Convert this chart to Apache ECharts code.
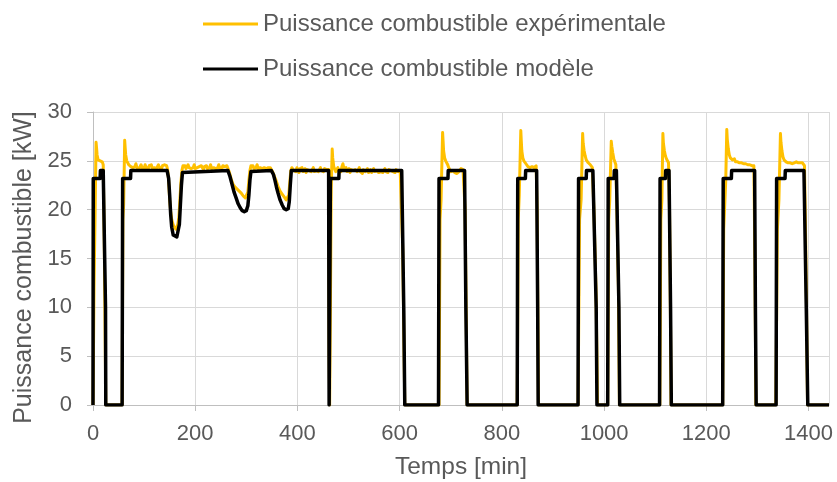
<!DOCTYPE html>
<html>
<head>
<meta charset="utf-8">
<script src="https://cdn.jsdelivr.net/npm/echarts@6/dist/echarts.min.js"></script>
<style>
html,body{margin:0;padding:0;background:#fff;}
#chart{width:837px;height:482px;}
</style>
</head>
<body>
<div id="chart"></div>
<script>
const seriesNames = ['Puissance combustible expérimentale', 'Puissance combustible modèle'];
const xAxisTitle = 'Temps [min]';
const yAxisTitle = 'Puissance combustible [kW]';
const xTicks = [0, 200, 400, 600, 800, 1000, 1200, 1400];
const yTicks = [0, 5, 10, 15, 20, 25, 30];

// Model (black) [time min, power kW]
const modelPoints = [
[0,0],[0.5,23.2],[14,23.2],[14.5,24],[20,24],[24.5,10],[25,0],
[57,0],[58,23.2],[73.5,23.2],[74,24],[145,24],
[148,23.2],[150,21.5],[152,19.5],[154,18.2],[157,17.4],[160,17.2],[164,17.2],[167,17.4],[169,18.5],[171,20.5],[173,22.5],[175,23.8],[178,24],
[264,24],[268,23.4],[272,22.6],[276,21.8],[280,21.2],[284,20.6],[288,20.2],[292,19.9],[296,19.8],[300,19.9],[303,20.4],[305,21.5],[307,23],[309,23.9],[311,24],
[349,24],[353,23.6],[356,23],[359,22.3],[362,21.7],[366,21],[370,20.5],[374,20.1],[378,20],[382,20.1],[384,20.8],[386,22.5],[388,24],
[461,24],[462,0],[463.5,0],[464.5,23.2],[481,23.2],[481.5,24],[604,24],[608,10],[610,0],
[676,0],[677,23.2],[694.5,23.2],[695,24],[727,24],[729.5,10],[732,0],
[830,0],[831,23.2],[846,23.2],[846.5,24],[868,24],[870,10],[871,0],
[949,0],[950,23.2],[965,23.2],[965.5,24],[978,24],[984.5,10],[986,0],
[1007,0],[1008,23.2],[1019.5,23.2],[1020,24],[1024,24],[1029,10],[1030.5,0],
[1108.5,0],[1109.5,23.2],[1120,23.2],[1120.5,24],[1127,24],[1130,10],[1131.5,0],
[1232,0],[1233,23.2],[1249,23.2],[1249.5,24],[1294.5,24],[1296,10],[1297.5,0],
[1336.5,0],[1337.5,23.2],[1354,23.2],[1354.5,24],[1391,24],[1395.5,10],[1398.5,0],
[1440,0]
];

// Experimental (yellow) [time min, power kW]
const experimentalPoints = [
[0,0],[2,12],[4,19.3],[6,26.9],[7,26.3],[8,25.6],[10,25.1],[12,24.9],[14,25.0],[16,24.8],[18,24.9],[20,24.6],[22,17],[24,6],[25,0],
[57,0],[58.5,19],[60,20.6],[62,27.1],[63,26.3],[64,25.6],[66,25.0],[68,24.8],[70,24.6],[72,24.7],[74,24.4],[76,24.6],[78,24.3],[80,24.5],[82,24.4],[84,24.7],[86,24.3],[88,24.5],[90,24.2],[92,24.4],[94,24.6],[96,24.3],[98,24.5],[100,24.2],[102,24.6],[104,24.3],[106,24.4],[108,24.2],[110,24.5],[112,24.3],[114,24.6],[116,24.2],[118,24.4],[120,24.3],[122,24.5],[124,24.2],[126,24.4],[128,24.6],[130,24.3],[132,24.4],[134,24.2],[136,24.5],[138,24.3],[140,24.6],[142,24.4],[144,24.5],[146,24.1],
[148,23.0],[150,21.0],[152,19.8],[154,19.0],[156,18.6],[158,18.3],[160,18.1],[162,18.0],[164,18.2],[166,18.5],[168,19.2],[170,21.0],[172,22.8],[174,24.0],[176,24.5],[178,24.3],
[180,24.5],[182,24.2],[184,24.4],[186,24.6],[188,24.3],[190,24.5],[192,24.2],[194,24.4],[196,24.3],[198,24.6],[200,24.2],[202,24.4],[204,24.3],[206,24.1],[208,24.4],[210,24.2],[212,24.5],[214,24.3],[216,24.1],[218,24.4],[220,24.3],[222,24.5],[224,24.2],[226,24.4],[228,24.3],[230,24.6],[232,24.2],[234,24.4],[236,24.3],[238,24.5],[240,24.2],[242,24.4],[244,24.3],[246,24.6],[248,24.3],[250,24.4],[252,24.2],[254,24.5],[256,24.3],[258,24.4],[260,24.2],[262,24.5],[264,24.3],
[267,23.8],[270,23.2],[274,22.6],[278,22.3],[282,22.1],[286,21.9],[290,21.7],[294,21.4],[298,21.2],[301,21.0],[303,21.8],[305,23.0],[307,24.0],[309,24.5],[311,24.3],
[313,24.5],[315,24.2],[317,24.4],[319,24.3],[321,24.6],[323,24.2],[325,24.4],[327,24.3],[329,24.5],[331,24.2],[333,24.4],[335,24.3],[337,24.5],[339,24.2],[341,24.4],[343,24.3],[345,24.5],[347,24.3],[349,24.2],
[352,23.8],[355,23.4],[358,23.0],[362,22.4],[366,21.9],[370,21.6],[374,21.3],[378,21.0],[381,20.9],[383,21.5],[385,22.8],[387,24.0],[389,24.3],
[391,24.3],[393,24.0],[395,24.2],[397,23.9],[399,24.3],[401,24.1],[403,23.8],[405,24.2],[407,24.0],[409,24.3],[411,23.9],[413,24.1],[415,24.2],[417,23.8],[419,24.1],[421,24.3],[423,24.0],[425,24.2],[427,23.9],[429,24.1],[431,24.3],[433,23.9],[435,24.1],[437,24.0],[439,24.2],[441,23.9],[443,24.1],[445,24.3],[447,24.0],[449,24.1],[451,23.9],[453,24.2],[455,24.0],[457,24.1],[459,23.9],[461,24.1],
[462,5],[463,0],[464.5,10],[466,22],[468,26.2],[469,25.3],[471,24.4],
[473,24.2],[475,23.9],[477,24.1],[479,24.3],[481,24.0],[483,24.2],[485,23.9],[487,24.4],[489,24.7],[491,24.2],[493,24.0],[495,24.3],[497,23.9],[499,24.1],[501,24.2],[503,23.8],[505,24.1],[507,24.3],[509,24.0],[511,23.8],[513,24.1],[515,24.2],[517,23.9],[519,24.1],[521,24.3],[523,23.9],[525,24.0],[527,23.7],[529,24.1],[531,24.2],[533,23.9],[535,24.0],[537,24.2],[539,23.8],[541,24.0],[543,24.1],[545,23.8],[547,24.0],[549,24.2],[551,23.9],[553,23.7],[555,24.0],[557,24.1],[559,23.8],[561,24.0],[563,23.9],[565,24.1],[567,23.8],[569,24.0],[571,24.2],[573,23.9],[575,24.0],[577,23.8],[579,24.1],[581,23.9],[583,24.0],[585,24.2],[587,23.9],[589,24.0],[591,23.8],[593,24.1],[595,24.0],[597,23.9],[599,24.1],[601,24.0],[603,23.9],[606,16],[608,8],[610,0],
[677,0],[679,19],[681,21],[684,27.9],[685,27.0],[686,26.0],[688,25.3],[690,25.0],[692,24.8],[694,24.6],[696,24.3],[698,24.1],[700,23.9],[702,24.1],[704,24.0],[706,24.2],[708,23.8],[710,24.0],[712,23.7],[714,23.6],[716,23.9],[718,24.1],[720,24.2],[722,24.3],[724,24.1],[726,24.2],[728,20],[730,10],[732,0],
[830,0],[832,19],[834,21.5],[837,28.1],[838,27.0],[839,26.0],[841,25.3],[843,25.0],[845,24.8],[847,24.7],[849,24.6],[851,24.4],[853,24.5],[855,24.3],[857,24.5],[859,24.4],[861,24.6],[863,24.3],[865,24.4],[867,24.5],[869,20],[870.5,8],[871.5,0],
[949,0],[952,19],[955,21],[958,27.8],[959,26.8],[961,26.0],[963,25.5],[965,25.1],[967,24.9],[969,24.8],[971,24.7],[973,24.6],[975,24.5],[977,24.3],[980,20],[984,12],[986,5],[987,0],
[1007,0],[1009,19],[1011,21],[1014,27.0],[1015,26.5],[1017,25.8],[1019,25.2],[1021,24.9],[1023,24.6],[1025,20],[1028,12],[1030,0],
[1109,0],[1111,19],[1113,21],[1115,27.8],[1116,26.8],[1118,26.0],[1120,25.5],[1122,25.2],[1124,25.0],[1126,24.8],[1128,20],[1130,8],[1131,0],
[1232,0],[1234,18],[1236,20.5],[1238,23],[1240,28.2],[1241,27.2],[1243,26.2],[1245,25.6],[1247,25.3],[1249,25.2],[1251,25.1],[1253,25.0],[1255,25.2],[1257,24.9],[1259,25.0],[1261,24.9],[1263,25.1],[1265,24.8],[1267,24.9],[1269,24.8],[1271,24.9],[1273,24.7],[1275,24.8],[1277,24.7],[1279,24.8],[1281,24.6],[1283,24.7],[1285,24.6],[1287,24.7],[1289,24.5],[1291,24.6],[1293,24.5],[1295,15],[1297,0],
[1336,0],[1339,18],[1342,21],[1345,27.8],[1346,26.9],[1348,26.0],[1350,25.4],[1352,25.1],[1354,24.9],[1356,24.9],[1358,25.0],[1360,24.8],[1362,24.9],[1364,24.8],[1366,24.9],[1368,24.7],[1370,24.9],[1372,24.8],[1374,24.7],[1376,24.9],[1378,24.7],[1380,24.8],[1382,24.6],[1384,24.8],[1386,24.7],[1388,24.8],[1390,24.6],[1392,24.5],[1394,18],[1396,10],[1398,0],
[1440,0]
];

const textColor = '#595959';
const fontFamily = '"Liberation Sans", Arial, sans-serif';

const chart = echarts.init(document.getElementById('chart'), null, {renderer: 'canvas'});
chart.setOption({
  animation: false,
  backgroundColor: '#ffffff',
  textStyle: {fontFamily: fontFamily, color: textColor},
  legend: {
    orient: 'vertical',
    left: 198,
    top: 6,
    itemWidth: 55,
    itemHeight: 3,
    itemGap: 19,
    selectedMode: false,
    icon: 'rect',
    textStyle: {fontSize: 24, color: textColor, fontFamily: fontFamily, lineHeight: 26},
    data: seriesNames
  },
  grid: {left: 93, right: 8, top: 112, bottom: 77, containLabel: false, outerBoundsMode: 'none'},
  xAxis: {
    type: 'value',
    min: 0,
    max: 1440,
    interval: 200,
    name: xAxisTitle,
    nameLocation: 'middle',
    nameGap: 50,
    nameTextStyle: {fontSize: 24.5, color: textColor, fontFamily: fontFamily},
    axisLine: {show: true, lineStyle: {color: '#bfbfbf', width: 1}},
    axisTick: {show: true, length: 6, lineStyle: {color: '#bfbfbf'}},
    axisLabel: {fontSize: 22, color: textColor, margin: 18, showMaxLabel: false,
      formatter: function (v) { return xTicks.indexOf(v) >= 0 ? String(v) : ''; }},
    splitLine: {show: true, lineStyle: {color: '#d9d9d9', width: 1}}
  },
  yAxis: {
    type: 'value',
    min: 0,
    max: 30,
    interval: 5,
    name: yAxisTitle,
    nameLocation: 'middle',
    nameGap: 53,
    nameTextStyle: {fontSize: 25, color: textColor, fontFamily: fontFamily, padding: [0, 18, 0, 0]},
    axisLine: {show: true, lineStyle: {color: '#bfbfbf', width: 1}},
    axisTick: {show: true, length: 6, lineStyle: {color: '#bfbfbf'}},
    axisLabel: {fontSize: 22, color: textColor, margin: 21,
      formatter: function (v) { return yTicks.indexOf(v) >= 0 ? String(v) : ''; }},
    splitLine: {show: true, lineStyle: {color: '#d9d9d9', width: 1}}
  },
  series: [
    {
      name: seriesNames[0],
      type: 'line',
      data: experimentalPoints,
      showSymbol: false,
      symbol: 'none',
      lineStyle: {color: '#FFC000', width: 3, join: 'round'},
      itemStyle: {color: '#FFC000'},
      z: 2
    },
    {
      name: seriesNames[1],
      type: 'line',
      data: modelPoints,
      showSymbol: false,
      symbol: 'none',
      lineStyle: {color: '#000000', width: 3.5, join: 'round'},
      itemStyle: {color: '#000000'},
      z: 3
    }
  ]
});
</script>
</body>
</html>
